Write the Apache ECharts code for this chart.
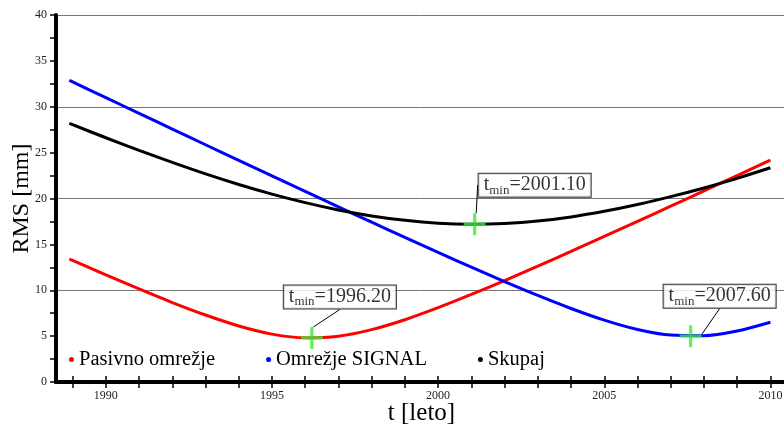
<!DOCTYPE html>
<html>
<head>
<meta charset="utf-8">
<script src="https://cdn.jsdelivr.net/npm/echarts@6/dist/echarts.min.js"></script>
<style>
  html, body { margin: 0; padding: 0; background: #fff; }
  #chart { width: 784px; height: 426px; }
</style>
</head>
<body>
<div id="chart"></div>
<script>
// epochs (years) and RMS values, in mm
const years = [1988.9, 1989, 1990, 1991, 1992, 1993, 1994, 1995, 1996, 1997, 1998, 1999,
  2000, 2001, 2002, 2003, 2004, 2005, 2006, 2007, 2008, 2009, 2010]
const pasivno = [13.4, 13.26, 11.68, 10.14, 8.66, 7.30, 6.11, 5.22, 4.81, 4.99, 5.71, 6.79,
  8.10, 9.54, 11.06, 12.63, 14.23, 15.86, 17.50, 19.16, 20.83, 22.50, 24.18]
const signal = [32.88, 32.71, 30.99, 29.28, 27.57, 25.86, 24.16, 22.46, 20.77, 19.09, 17.42, 15.76,
  14.12, 12.51, 10.94, 9.43, 8.01, 6.74, 5.72, 5.11, 5.05, 5.56, 6.51]
const skupaj = [28.2, 28.05, 26.62, 25.25, 23.93, 22.68, 21.53, 20.48, 19.55, 18.75, 18.10, 17.62,
  17.31, 17.20, 17.28, 17.54, 17.99, 18.60, 19.34, 20.20, 21.15, 22.20, 23.35]

// minima marked with green crosses
const minYears = [1996.20, 2001.10, 2007.60]
const minRms = [4.8, 17.2, 5.0]

// axis ticks and labels
const xTickYears = [1989, 1990, 1991, 1992, 1993, 1994, 1995, 1996, 1997, 1998, 1999, 2000,
  2001, 2002, 2003, 2004, 2005, 2006, 2007, 2008, 2009, 2010]
const xLabelYears = [1990, 1995, 2000, 2005, 2010]

const seriesNames = ['Pasivno omrežje', 'Omrežje SIGNAL', 'Skupaj']
const seriesColors = ['#ff0000', '#0000ff', '#000000']

const serif = '"Liberation Serif", "Times New Roman", serif'

const zip = (xs, ys) => xs.map((x, i) => [x, ys[i]])

const chart = echarts.init(document.getElementById('chart'), null, { renderer: 'canvas' })

const crossPath = 'path://M-1.6,-11 L1.6,-11 L1.6,-1.6 L11,-1.6 L11,1.6 L1.6,1.6 L1.6,11 L-1.6,11 L-1.6,1.6 L-11,1.6 L-11,-1.6 L-1.6,-1.6 Z'

// where each t_min box sits relative to its cross (pixels)
const boxShift = [[28, -41], [60, -39], [29, -40]]

const lineSeries = [pasivno, signal, skupaj].map((vals, i) => ({
  name: seriesNames[i],
  type: 'line',
  data: zip(years, vals),
  smooth: 0.3,
  showSymbol: false,
  symbol: 'circle',
  color: seriesColors[i],
  lineStyle: { width: 3, color: seriesColors[i] },
  z: 3
}))

const option = {
  animation: false,
  backgroundColor: '#fff',
  grid: { left: 56, right: -3, top: 15, bottom: 44, containLabel: false, outerBoundsMode: 'none' },
  legend: {
    data: seriesNames,
    left: 69,
    top: 349,
    padding: 0,
    icon: 'circle',
    itemWidth: 5,
    itemHeight: 5,
    itemGap: 51,
    textStyle: { fontFamily: serif, fontSize: 20.5, color: '#000' }
  },
  xAxis: [
    {
      type: 'value',
      position: 'bottom',
      min: 1988.5,
      max: 2010.5,
      name: 't [leto]',
      nameLocation: 'middle',
      nameGap: 19,
      nameMoveOverlap: false,
      nameTextStyle: { fontFamily: serif, fontSize: 25, color: '#000' },
      axisLine: { show: true, lineStyle: { color: '#000', width: 4 } },
      axisTick: { show: true, length: 6, customValues: xTickYears, lineStyle: { color: '#000', width: 1.5 } },
      axisLabel: {
        customValues: xLabelYears,
        formatter: v => String(v),
        fontFamily: serif, fontSize: 12, color: '#222', margin: 8
      },
      splitLine: { show: false }
    },
    {
      type: 'value',
      position: 'top',
      min: 1988.5,
      max: 2010.5,
      axisLine: { show: true, lineStyle: { color: '#000', width: 3 } },
      axisTick: { show: true, length: 6, customValues: xTickYears, lineStyle: { color: '#000', width: 1.5 } },
      axisLabel: { show: false },
      splitLine: { show: false }
    }
  ],
  yAxis: [
    {
      type: 'value',
      position: 'left',
      min: 0,
      max: 40,
      interval: 5,
      name: 'RMS [mm]',
      nameLocation: 'middle',
      nameGap: 22,
      nameMoveOverlap: false,
      nameTextStyle: { fontFamily: serif, fontSize: 24, color: '#000' },
      axisLine: { show: true, lineStyle: { color: '#000', width: 4 } },
      axisTick: { show: true, length: 6, lineStyle: { color: '#000', width: 1.5 } },
      minorTick: { show: true, splitNumber: 2, length: 6, lineStyle: { color: '#000', width: 1.5 } },
      axisLabel: { fontFamily: serif, fontSize: 12, color: '#222', margin: 9 },
      splitLine: { show: false }
    },
    {
      type: 'value',
      position: 'left',
      min: 0,
      max: 40,
      interval: 10,
      axisLine: { show: false },
      axisTick: { show: false },
      axisLabel: { show: false },
      splitLine: { show: true, lineStyle: { color: '#777', width: 1 } }
    }
  ],
  series: [
    ...lineSeries,
    {
      name: 'tmin',
      type: 'scatter',
      data: zip(minYears, minRms),
      symbol: crossPath,
      symbolSize: 22,
      itemStyle: { color: '#33ee33' },
      z: 5,
      label: {
        show: true,
        position: 'inside',
        formatter: p => '{t|t}{s|min}{t|=' + p.value[0].toFixed(2) + '}',
        backgroundColor: '#fff',
        borderColor: '#000',
        borderWidth: 1,
        padding: [0, 5, 0, 5],
        rich: {
          t: { fontFamily: serif, fontSize: 20, lineHeight: 23, color: '#000' },
          s: { fontFamily: serif, fontSize: 13, lineHeight: 23, verticalAlign: 'bottom', color: '#000' }
        }
      },
      labelLine: { show: true, lineStyle: { color: '#000', width: 1 } },
      labelLayout: p => ({ dx: boxShift[p.dataIndex][0], dy: boxShift[p.dataIndex][1] })
    }
  ]
}

chart.setOption(option)
</script>
</body>
</html>
